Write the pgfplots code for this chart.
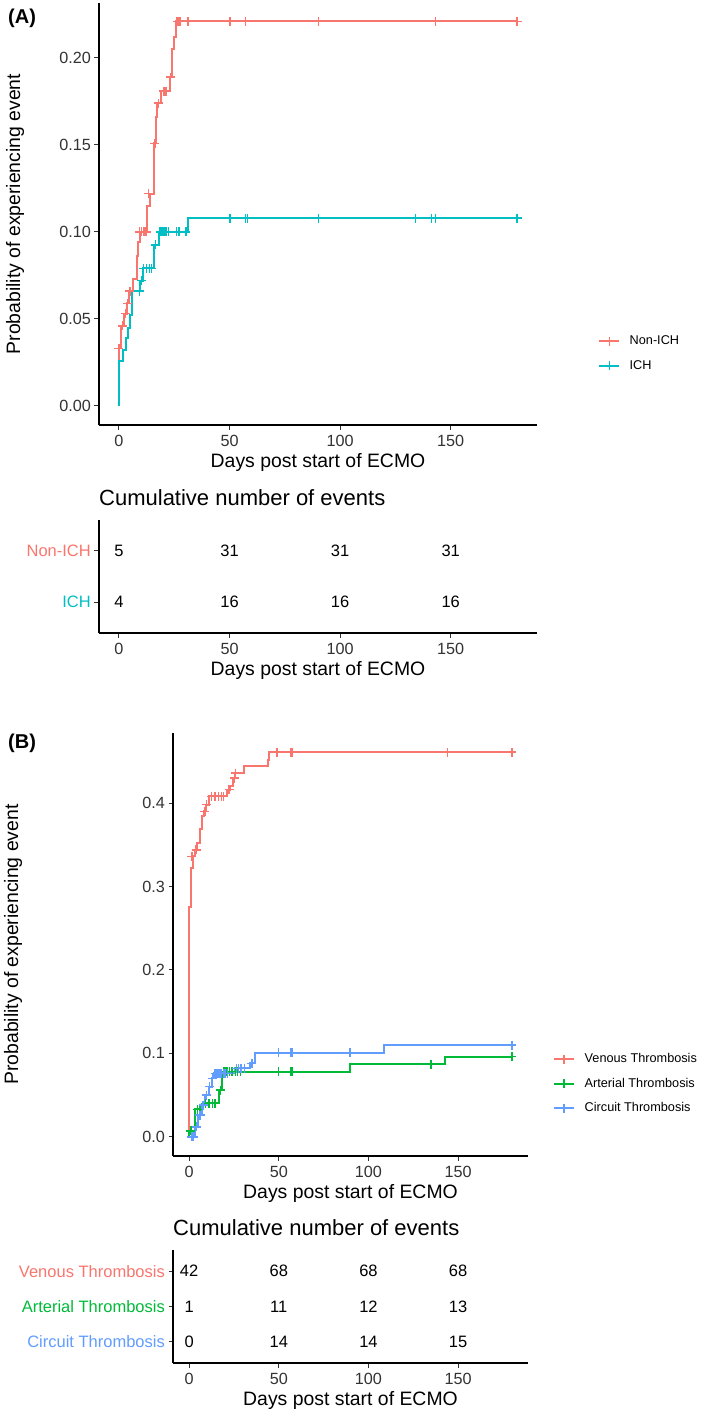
\documentclass[border=0pt]{standalone}
\usepackage{fontspec}
\setmainfont{Liberation Sans}
\usepackage{pgfplots}
\pgfplotsset{compat=1.18}

\definecolor{cRed}{HTML}{F8766D}
\definecolor{cCyan}{HTML}{00BFC4}
\definecolor{cGreen}{HTML}{00BA38}
\definecolor{cBlue}{HTML}{619CFF}
\definecolor{txt}{HTML}{333333}

\newcommand\fTick{\fontsize{16.2}{19}\selectfont}
\newcommand\fLab{\fontsize{19.4}{23}\selectfont}
\newcommand\fTitle{\fontsize{22}{26}\selectfont}
\newcommand\fTab{\fontsize{16.5}{19}\selectfont}
\newcommand\fLeg{\fontsize{12.7}{15}\selectfont}
\newcommand\fPanel{\fontsize{20}{24}\selectfont\bfseries}

\pgfplotsset{
  kmbase/.style={
    scale only axis,
    axis lines=left,
    axis line style={-, line width=1.1pt, black},
    tick align=outside,
    major tick length=4.5pt,
    tick style={line width=1pt, black!80},
    xmin=-9, xmax=189,
    xtick={0,50,100,150},
    scaled ticks=false,
    /pgf/number format/assume math mode=true,
    tick label style={font=\fTick, text=txt},
    xticklabel style={anchor=base, yshift=-17pt, inner sep=0pt},
    yticklabel style={anchor=east, xshift=-3.5pt, inner sep=0pt},
    xlabel={Days post start of ECMO},
    xlabel style={at={(axis description cs:0.5,0)}, anchor=center, yshift=-37pt, font=\fLab, text=black, inner sep=0pt},
    clip=false,
  },
  kmleg/.style={
    legend style={draw=none, fill=none, inner sep=0pt, row sep=12.3pt, font=\fLeg,
      nodes={inner sep=0pt, text height=9.5pt, text depth=2.7pt}},
    legend cell align=left,
    legend image code/.code={\draw[mark repeat=2,mark phase=2,##1] plot coordinates {(0pt,0pt) (10pt,0pt) (20pt,0pt)}; \path (29.5pt,0pt);},
  },
  kmstep/.style={const plot, line width=2pt, draw=#1, forget plot},
  kmcens/.style={only marks, mark=+, mark size=4.5pt, #1, mark options={line width=1.4pt}, forget plot},
  kmkey/.style={#1, line width=2pt, mark=+, mark size=4.5pt, mark options={line width=1.4pt}},
  tab/.style={
    kmbase, height=113pt,
    yticklabel style={font=\fTab},
    title={Cumulative number of events},
    title style={at={(axis description cs:0,1)}, anchor=base west, yshift=9pt, inner sep=0pt, font=\fTitle},
  },
  num/.style={draw=none, mark=none, nodes near coords, point meta=explicit symbolic,
    nodes near coords style={anchor=center, font=\fTab, text=black, inner sep=0pt}},
}

\begin{document}
\begin{tikzpicture}
\path[use as bounding box] (0,0) rectangle (709pt,-1415pt);

\node[anchor=west, inner sep=0pt, font=\fPanel] at (8pt,-18.7pt) {(A)};
\node[anchor=west, inner sep=0pt, font=\fPanel] at (8pt,-743pt) {(B)};

% ---------- Panel A: curves ----------
\begin{axis}[kmbase, kmleg,
  at={(99pt,-425pt)}, anchor=south west,
  width=438pt, height=422pt,
  ymin=-0.011, ymax=0.2316,
  ytick={0,0.05,0.10,0.15,0.20},
  yticklabel style={/pgf/number format/fixed, /pgf/number format/fixed zerofill, /pgf/number format/precision=2},
  ylabel={Probability of experiencing event},
  ylabel style={at={(axis description cs:-0.1918,0.5)}, anchor=center, font=\fLab, text=black},
  legend style={at={(axis description cs:1.1393,0.2133)}, anchor=north west},
]
\addplot[kmstep=cRed] coordinates {(0,0) (0,0.033) (0.8,0.046) (2.3,0.053) (3.5,0.059) (4.5,0.066) (6.2,0.073) (8,0.086) (8.7,0.094) (9.5,0.100) (12.8,0.115) (14,0.122) (15.8,0.151) (16.6,0.166) (17.3,0.174) (19,0.181) (23,0.189) (23.8,0.205) (24.9,0.212) (25.9,0.221) (180,0.221)};
\addplot[kmstep=cCyan] coordinates {(0,0) (0,0.026) (1.95,0.032) (3,0.039) (4.2,0.045) (5,0.052) (6,0.066) (9.5,0.072) (10.7,0.079) (15.8,0.0925) (18.2,0.100) (31.3,0.108) (180,0.108)};
\addplot[kmcens=cRed] coordinates {(0,0.033) (1.7,0.046) (2.9,0.053) (3.9,0.059) (5,0.066) (9.3,0.100) (10.3,0.100) (11.4,0.100) (12.3,0.100) (13.5,0.122) (16.3,0.151) (17.8,0.174) (20.1,0.181) (20.8,0.181) (21.6,0.181) (23.2,0.189) (26.3,0.221) (27.1,0.221) (27.8,0.221) (31.3,0.221) (50.2,0.221) (57.2,0.221) (90.1,0.221) (143.2,0.221) (180,0.221)};
\addplot[kmcens=cCyan] coordinates {(9.2,0.066) (10.2,0.072) (11,0.079) (12.5,0.079) (13.7,0.079) (14.8,0.079) (16.5,0.0925) (18.6,0.100) (19.4,0.100) (20.3,0.100) (21.2,0.100) (22.3,0.100) (26,0.100) (27.1,0.100) (30.3,0.100) (50.2,0.108) (57.2,0.108) (58.1,0.108) (90.1,0.108) (134.2,0.108) (141.3,0.108) (143.2,0.108) (180,0.108)};
\addlegendimage{kmkey=cRed}
\addlegendentry{Non-ICH}
\addlegendimage{kmkey=cCyan}
\addlegendentry{ICH}
\end{axis}

% ---------- Panel A: table ----------
\begin{axis}[tab,
  at={(99pt,-633pt)}, anchor=south west,
  width=438pt, ymin=0.4, ymax=2.6,
  ytick={1,2}, yticklabels={\textcolor{cCyan}{ICH}, \textcolor{cRed}{Non-ICH}},
]
\addplot[num] coordinates {(0,2)[5] (50,2)[31] (100,2)[31] (150,2)[31]
  (0,1)[4] (50,1)[16] (100,1)[16] (150,1)[16]};
\end{axis}

% ---------- Panel B: curves ----------
\begin{axis}[kmbase, kmleg,
  at={(173pt,-1156pt)}, anchor=south west,
  width=355pt, height=423pt,
  ymin=-0.023, ymax=0.484,
  ytick={0,0.1,0.2,0.3,0.4},
  yticklabel style={/pgf/number format/fixed, /pgf/number format/fixed zerofill, /pgf/number format/precision=1},
  ylabel={Probability of experiencing event},
  ylabel style={at={(axis description cs:-0.4507,0.5)}, anchor=center, font=\fLab, text=black},
  legend style={at={(axis description cs:1.0704,0.2435)}, anchor=north west},
]
\addplot[kmstep=cRed] coordinates {(0,0) (0,0.276) (0.9,0.322) (1.9,0.336) (3.3,0.344) (4.3,0.352) (5.8,0.369) (7.2,0.384) (8.4,0.390) (9.3,0.398) (10.8,0.408) (21,0.416) (22.9,0.420) (24.2,0.430) (25.6,0.436) (30.5,0.444) (43.9,0.452) (44.8,0.461) (180,0.461)};
\addplot[kmstep=cGreen] coordinates {(0,0) (0,0.007) (3.5,0.033) (7.5,0.040) (16.9,0.056) (18.2,0.078) (89.7,0.087) (142.7,0.096) (180,0.096)};
\addplot[kmstep=cBlue] coordinates {(0,0) (3.3,0.012) (5.2,0.026) (7.1,0.038) (8.9,0.050) (10.8,0.060) (12.6,0.070) (13.6,0.076) (25.6,0.082) (34,0.088) (36.8,0.101) (108.9,0.110) (180,0.110)};
\addplot[kmcens=cRed] coordinates {(1.5,0.336) (3.9,0.344) (8.8,0.390) (9.7,0.398) (12.6,0.408) (14.5,0.408) (16.3,0.408) (18.2,0.408) (19.1,0.408) (22.3,0.416) (25.2,0.430) (25.9,0.436) (48.9,0.461) (56.8,0.461) (57.6,0.461) (144,0.461) (180,0.461)};
\addplot[kmcens=cGreen] coordinates {(1,0.007) (4.5,0.033) (6,0.033) (9,0.040) (11,0.040) (13,0.040) (14.5,0.040) (17.5,0.056) (19.5,0.078) (20.5,0.078) (21.5,0.078) (22.5,0.078) (24,0.078) (26,0.078) (27,0.078) (28.5,0.078) (49.8,0.078) (56.8,0.078) (57.6,0.078) (135,0.087) (180,0.096)};
\addplot[kmcens=cBlue] coordinates {(1.5,0) (2.5,0) (4.2,0.012) (5.8,0.026) (6.5,0.026) (7.8,0.038) (9.6,0.050) (11.5,0.060) (13,0.070) (14.5,0.076) (15.5,0.076) (16.3,0.076) (17.2,0.076) (18,0.076) (19,0.076) (20,0.076) (21.5,0.076) (26.5,0.082) (27.5,0.082) (29,0.082) (31,0.082) (35,0.088) (49.8,0.101) (56.8,0.101) (57.6,0.101) (89.7,0.101) (180,0.110)};
\addlegendimage{kmkey=cRed}
\addlegendentry{Venous Thrombosis}
\addlegendimage{kmkey=cGreen}
\addlegendentry{Arterial Thrombosis}
\addlegendimage{kmkey=cBlue}
\addlegendentry{Circuit Thrombosis}
\end{axis}

% ---------- Panel B: table ----------
\begin{axis}[tab,
  at={(173pt,-1363pt)}, anchor=south west,
  width=355pt, ymin=0.4, ymax=3.6,
  ytick={1,2,3}, yticklabels={\textcolor{cBlue}{Circuit Thrombosis}, \textcolor{cGreen}{Arterial Thrombosis}, \textcolor{cRed}{Venous Thrombosis}},
]
\addplot[num] coordinates {(0,3)[42] (50,3)[68] (100,3)[68] (150,3)[68]
  (0,2)[1] (50,2)[11] (100,2)[12] (150,2)[13]
  (0,1)[0] (50,1)[14] (100,1)[14] (150,1)[15]};
\end{axis}
\end{tikzpicture}
\end{document}
